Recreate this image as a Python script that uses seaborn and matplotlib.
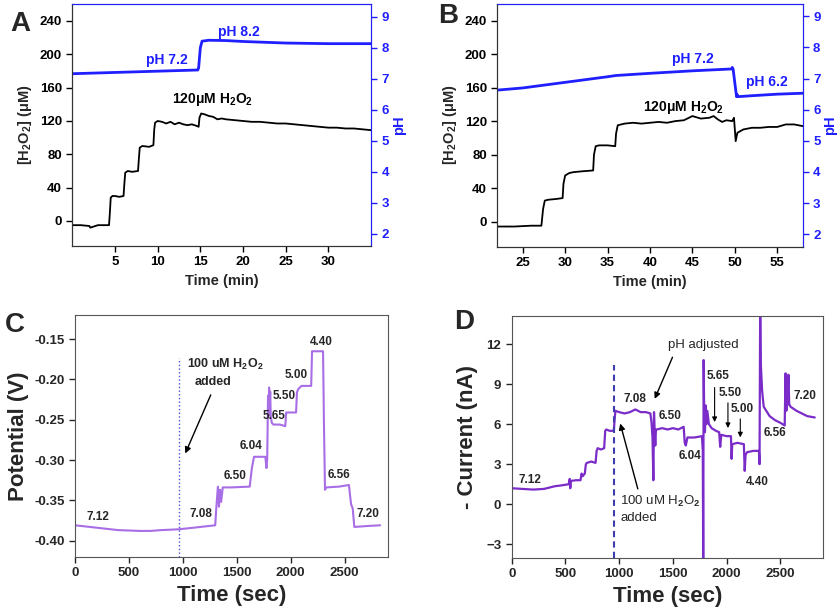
import matplotlib
matplotlib.use("Agg")
import matplotlib.pyplot as plt
import seaborn as sns
import pandas as pd

# ---- panel A: H2O2 step additions, pH raised ----
a_t = [0, 1, 2, 2.1, 3, 4.3, 4.4, 4.5, 4.7, 5, 5.5, 6.0, 6.1, 6.2, 6.5, 7, 7.7, 7.8, 7.9, 8.2,
       9, 9.5, 9.6, 9.7, 10, 10.5, 11, 11.5, 12, 12.5, 13, 13.5, 14, 14.6, 14.8, 14.9, 15.1, 15.5, 16, 16.5,
       17, 17.5, 18, 19, 20, 21, 22, 23, 24, 25, 26, 27, 28, 29, 30, 31, 32, 33, 34, 35]
a_h2o2 = [-5, -5, -6, -8, -5, -5, 10, 28, 30, 30, 29, 30, 45, 58, 60, 59, 60, 75, 88, 90,
          89, 91, 110, 118, 120, 119, 117, 119, 116, 118, 116, 115, 116, 114, 113, 124, 129, 128, 126, 125,
          122, 123, 122, 121, 120, 119, 119, 118, 117, 117, 116, 115, 114, 113, 112, 112, 111, 111, 110, 109]
a_ph_t = [0, 14.7, 14.8, 15.0, 15.2, 16, 18, 20, 25, 30, 35]
a_ph = [7.16, 7.28, 7.35, 8.0, 8.21, 8.24, 8.23, 8.2, 8.15, 8.13, 8.13]

# ---- panel B: H2O2 step additions, pH lowered ----
b_t = [22, 24, 26, 27.2, 27.4, 27.6, 28, 29, 29.7, 29.8, 30, 30.5, 31, 32, 33.3, 33.4, 33.6, 34, 35, 35.9,
       36.0, 36.2, 37, 38, 39, 40, 41, 42, 43, 44, 45, 46, 47, 47.5, 48, 48.5, 49, 49.7, 49.9, 50.0,
       50.1, 50.3, 51, 52, 53, 54, 55, 56, 57, 58]
b_h2o2 = [-6, -6, -5, -5, 15, 25, 26, 27, 28, 45, 55, 58, 59, 60, 61, 80, 90, 91, 91, 90,
          105, 115, 117, 118, 117, 118, 119, 118, 120, 121, 126, 123, 124, 126, 122, 119, 121, 120, 124, 110,
          96, 106, 110, 112, 112, 113, 113, 116, 116, 114]
b_ph_t = [22, 25, 30, 35, 36, 40, 45, 49.6, 49.7, 49.8, 50.2, 50.3, 50.4, 52, 55, 58]
b_ph = [6.63, 6.7, 6.88, 7.06, 7.1, 7.17, 7.25, 7.31, 7.36, 7.3, 6.42, 6.48, 6.42, 6.45, 6.5, 6.53]

# ---- panel C: potential vs time ----
c_t = [0, 200, 400, 600, 700, 800, 960, 1100, 1300,
       1310, 1325, 1335, 1345, 1355, 1370, 1450,
       1620, 1640, 1660, 1700, 1765, 1775, 1782,
       1790, 1795, 1800, 1805, 1810, 1815, 1825, 1840,
       1900, 1950, 1958, 1965, 2050, 2058, 2070, 2100,
       2190, 2198, 2210, 2300, 2308, 2318, 2330,
       2450, 2540, 2560, 2575, 2590, 2600, 2700, 2830]
c_pot = [-0.381, -0.384, -0.387, -0.388, -0.388, -0.387, -0.386, -0.384, -0.381,
         -0.36, -0.333, -0.358, -0.337, -0.352, -0.334, -0.334,
         -0.333, -0.31, -0.296, -0.296, -0.296, -0.31, -0.30,
         -0.22, -0.245, -0.21, -0.24, -0.215, -0.245, -0.254, -0.256,
         -0.256, -0.258, -0.241, -0.241, -0.241, -0.216, -0.212, -0.208,
         -0.208, -0.165, -0.165, -0.165, -0.25, -0.337, -0.334,
         -0.333, -0.331, -0.355, -0.36, -0.383, -0.383, -0.382, -0.381]
c_labels = ["7.12", "7.08", "6.50", "6.04", "5.65", "5.50", "5.00", "4.40", "6.56", "7.20"]
c_lab_t = [210, 1167, 1480, 1634, 1842, 1944, 2052, 2284, 2451, 2718]
c_lab_v = [-0.371, -0.367, -0.32, -0.283, -0.245, -0.221, -0.194, -0.153, -0.318, -0.367]

# ---- panel D: current vs time ----
d_t = [0, 100, 200, 300, 350, 400, 450, 530, 540, 545,
       550, 600, 640, 650, 660, 680, 690, 700, 740, 780,
       790, 800, 830, 860, 870, 880, 910, 950, 958, 965,
       1000, 1050, 1100, 1150, 1200, 1250, 1290, 1300, 1310, 1318,
       1324, 1330, 1336, 1342, 1350, 1400, 1450, 1500, 1550, 1600,
       1610, 1620, 1635, 1650, 1700, 1770, 1778, 1782, 1786, 1792,
       1798, 1805, 1812, 1820, 1835, 1860, 1900, 1930, 1940, 1950,
       2000, 2040, 2046, 2052, 2100, 2160, 2168, 2176, 2190, 2250,
       2300, 2306, 2312, 2318, 2330, 2345, 2400, 2450, 2500, 2540,
       2548, 2555, 2565, 2575, 2582, 2595, 2650, 2700, 2750, 2820]
d_cur = [1.2, 1.15, 1.1, 1.15, 1.25, 1.35, 1.4, 1.5, 1.9, 1.2,
         1.75, 1.8, 1.8, 2.3, 2.1, 2.3, 3.0, 3.1, 3.2, 3.1,
         4.0, 4.2, 4.1, 4.2, 5.5, 5.6, 5.5, 5.5, 6.4, 7.0,
         6.9, 6.8, 6.9, 7.1, 6.9, 6.9, 6.8, 6.2, 5.0, 1.8,
         6.9, 5.5, 4.4, 5.6, 5.6, 5.7, 5.6, 5.7, 5.6, 5.8,
         4.6, 4.4, 5.0, 5.0, 5.0, 5.1, 4.0, -4.5, 10.8, 6.0,
         5.4, 7.4, 6.0, 7.0, 6.0, 5.7, 5.5, 5.4, 4.3, 5.2,
         5.1, 5.1, 3.4, 4.5, 4.6, 4.5, 2.5, 3.7, 3.9, 4.0,
         4.0, 3.0, 15.0, 10.5, 8.5, 7.3, 6.6, 6.3, 6.1, 5.9,
         9.8, 7.0, 7.5, 9.7, 7.5, 7.3, 7.0, 6.8, 6.6, 6.5]
d_labels = ["7.12", "7.08", "6.50", "6.04", "5.65", "5.50", "5.00", "4.40", "6.56", "7.20"]
d_lab_t = [165, 1143, 1475, 1655, 1919, 2034, 2146, 2283, 2453, 2733]
d_lab_v = [1.78, 7.9, 6.6, 3.6, 9.6, 8.3, 7.1, 1.7, 5.3, 8.1]

BLUE = "#1f1fff"
PURPLE_C = "#a86ee6"
PURPLE_D = "#7b2cc8"

sns.set_style("ticks")
plt.rcParams["font.family"] = ["Liberation Sans", "DejaVu Sans"]
plt.rcParams["font.weight"] = "bold"
plt.rcParams["axes.labelweight"] = "bold"
plt.rcParams["mathtext.fontset"] = "custom"
plt.rcParams["mathtext.rm"] = "Liberation Sans:bold"
plt.rcParams["mathtext.bf"] = "Liberation Sans:bold"
plt.rcParams["mathtext.it"] = "Liberation Sans:bold:italic"
plt.rcParams["mathtext.sf"] = "Liberation Sans"

fig = plt.figure(figsize=(8.4, 6.15), dpi=100)


def ph_panel(rect, t, h2o2, ph_t, ph, xlim, xticks, texts):
    ax = fig.add_axes(rect)
    df = pd.DataFrame({"t": t, "h": h2o2})
    sns.lineplot(data=df, x="t", y="h", ax=ax, color="black", lw=1.3, sort=False, estimator=None)
    ax.set_xlim(*xlim)
    ax.set_ylim(-30, 260)
    ax.set_xticks(xticks)
    ax.set_yticks(range(0, 241, 40))
    ax.set_xlabel("Time (min)", fontsize=10.5)
    ax.set_ylabel("[H$_2$O$_2$] (μM)", fontsize=10.5, labelpad=4)
    ax.tick_params(labelsize=9.5, direction="out", length=4, width=1, colors="black")
    for s in ["left", "bottom"]:
        ax.spines[s].set_color("#333333")
    ax2 = ax.twinx()
    dp = pd.DataFrame({"t": ph_t, "ph": ph})
    sns.lineplot(data=dp, x="t", y="ph", ax=ax2, color=BLUE, lw=2, sort=False, estimator=None)
    ax2.set_ylim(1.6, 9.4)
    ax2.set_yticks(range(2, 10))
    ax2.set_ylabel("pH", color=BLUE, fontsize=10.5, labelpad=2)
    ax2.tick_params(axis="y", labelsize=9.5, direction="out", length=4, width=1, colors=BLUE)
    ax2.spines["right"].set_color(BLUE)
    ax2.spines["top"].set_color(BLUE)
    ax2.spines["left"].set_color("#333333")
    ax2.spines["bottom"].set_color("#333333")
    for txt, x, y, on_ph in texts:
        target = ax2 if on_ph else ax
        target.text(x, y, txt, ha="center", va="center", fontsize=10,
                    color=BLUE if on_ph else "black")
    return ax


ph_panel([0.0861, 0.600, 0.3556, 0.393], a_t, a_h2o2, a_ph_t, a_ph, (0, 35), range(5, 31, 5),
         [("pH 7.2", 11.1, 7.6, True), ("pH 8.2", 19.5, 8.5, True),
          ("120μM H$_2$O$_2$", 16.4, 146, False)])
ph_panel([0.592, 0.599, 0.3636, 0.3946], b_t, b_h2o2, b_ph_t, b_ph, (22, 58), range(25, 56, 5),
         [("pH 7.2", 45.1, 7.63, True), ("pH 6.2", 53.75, 6.88, True),
          ("120μM H$_2$O$_2$", 43.9, 136, False)])

# ---- panel C ----
axc = fig.add_axes([0.0893, 0.0948, 0.3723, 0.393])
dfc = pd.DataFrame({"t": c_t, "v": c_pot})
sns.lineplot(data=dfc, x="t", y="v", ax=axc, color=PURPLE_C, lw=1.5, sort=False, estimator=None)
axc.set_xlim(0, 2900)
axc.set_ylim(-0.42, -0.12)
axc.set_xticks(range(0, 2501, 500))
axc.set_yticks([-0.40, -0.35, -0.30, -0.25, -0.20, -0.15])
axc.set_yticklabels(["-0.40", "-0.35", "-0.30", "-0.25", "-0.20", "-0.15"])
axc.set_xlabel("Time (sec)", fontsize=16, labelpad=4)
axc.set_ylabel("Potential (V)", fontsize=16, labelpad=4)
axc.tick_params(labelsize=9.5, direction="out", length=4, width=1)
for s in axc.spines.values():
    s.set_color("#555555")
axc.plot([960, 960], [-0.42, -0.173], color="#5050d8", lw=1, ls=":")
for txt, x, y in zip(c_labels, c_lab_t, c_lab_v):
    axc.text(x, y, txt, ha="center", va="center", fontsize=8.5)
axc.text(1393, -0.181, "100 uM H$_2$O$_2$", ha="center", va="center", fontsize=9)
axc.text(1284, -0.203, "added", ha="center", va="center", fontsize=9)
axc.annotate("", xy=(1012, -0.295), xytext=(1269, -0.216),
             arrowprops=dict(arrowstyle="-|>", color="black", lw=1, mutation_scale=9))

# ---- panel D ----
axd = fig.add_axes([0.6092, 0.0932, 0.371, 0.393])
dfd = pd.DataFrame({"t": d_t, "i": d_cur})
sns.lineplot(data=dfd, x="t", y="i", ax=axd, color=PURPLE_D, lw=1.6, sort=False, estimator=None)
axd.set_xlim(0, 2900)
axd.set_ylim(-4, 14.1)
axd.set_xticks(range(0, 2501, 500))
axd.set_yticks([-3, 0, 3, 6, 9, 12])
axd.set_xlabel("Time (sec)", fontsize=16, labelpad=4)
axd.set_ylabel("- Current (nA)", fontsize=16, labelpad=6)
axd.tick_params(labelsize=9.5, direction="out", length=4, width=1)
for s in axd.spines.values():
    s.set_color("#555555")
axd.plot([956, 956], [-4, 10.45], color="#3d3dab", lw=1.5, ls="--", dashes=(3, 2))
for txt, x, y in zip(d_labels, d_lab_t, d_lab_v):
    axd.text(x, y, txt, ha="center", va="center", fontsize=8.5)
axd.text(1786, 11.95, "pH adjusted", ha="center", va="center", fontsize=9.5, fontweight="normal")
axd.annotate("", xy=(1320, 7.7), xytext=(1506, 11.2),
             arrowprops=dict(arrowstyle="-|>", color="black", lw=1, mutation_scale=9))
axd.text(1010, 0.2, r"100 uM H$\mathsf{_2}$O$\mathsf{_2}$", ha="left", va="center", fontsize=9.5,
         fontweight="normal")
axd.text(1010, -1.05, "added", ha="left", va="center", fontsize=9.5, fontweight="normal")
axd.annotate("", xy=(1003, 6.25), xytext=(1180, 0.95),
             arrowprops=dict(arrowstyle="-|>", color="black", lw=1, mutation_scale=9))
for x, y0, y1 in [(1888, 8.95, 5.95), (2012, 7.8, 5.5), (2127, 6.6, 4.8)]:
    axd.annotate("", xy=(x, y1), xytext=(x, y0),
                 arrowprops=dict(arrowstyle="-|>", color="black", lw=0.8, mutation_scale=7))

# panel letters
for letter, x, y in [("A", 0.0238, 0.961), ("B", 0.533, 0.974), ("C", 0.018, 0.4715), ("D", 0.552, 0.476)]:
    fig.text(x, y, letter, ha="center", va="center", fontsize=20, fontweight="bold")

fig.savefig("out.png", dpi=100)
plt.close(fig)
